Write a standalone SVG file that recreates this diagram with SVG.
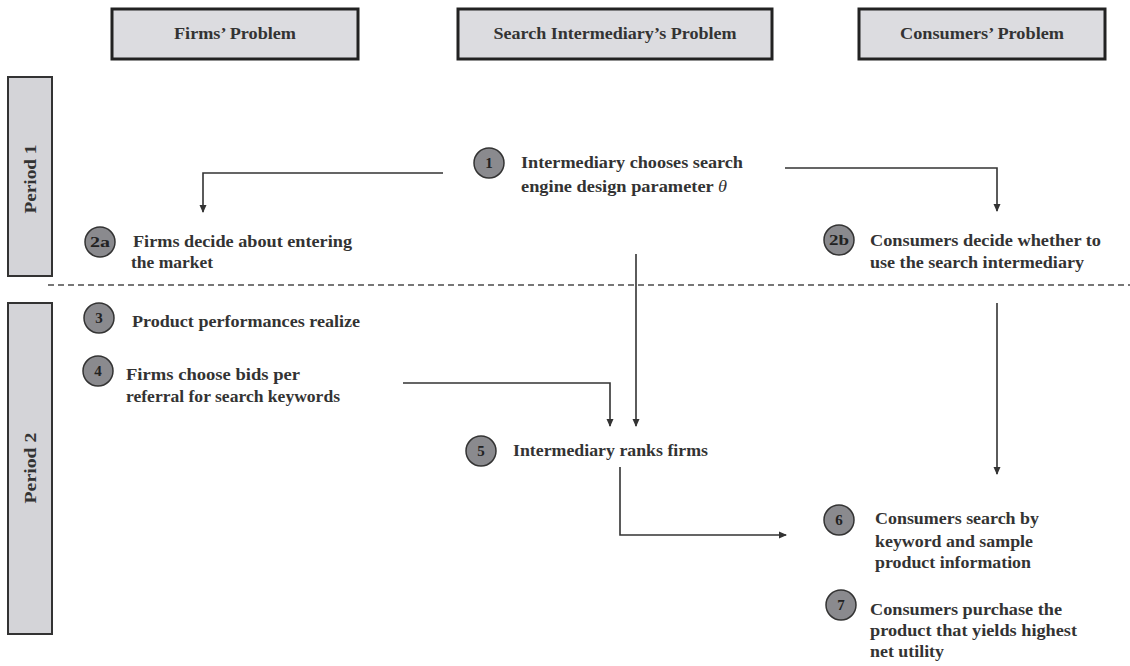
<svg xmlns="http://www.w3.org/2000/svg" width="1130" height="666" viewBox="0 0 1130 666">
<defs>
<marker id="ah" markerWidth="8" markerHeight="8" refX="7" refY="4" orient="auto" markerUnits="userSpaceOnUse">
<path d="M0,0.5 L8,4 L0,7.5 z" fill="#333"/>
</marker>
</defs>
<style>
.hdr{fill:#dcdce0;stroke:#222;stroke-width:3}
.per{fill:#d4d4d8;stroke:#333;stroke-width:2}
.ht{font-family:"Liberation Serif",serif;font-weight:bold;font-size:16px;fill:#333;text-anchor:middle}
.t{font-family:"Liberation Serif",serif;font-weight:bold;font-size:17px;fill:#333}
.c{fill:#8a8a8e;stroke:#333;stroke-width:1.5}
.ct{font-family:"Liberation Serif",serif;font-weight:bold;font-size:15px;fill:#222;text-anchor:middle}
.ln{fill:none;stroke:#333;stroke-width:1.6}
</style>
<rect width="1130" height="666" fill="#fff"/>
<g id="hdr-firms"><rect class="hdr" x="112" y="9" width="246" height="50"/><text class="ht" x="235" y="39" textLength="122" lengthAdjust="spacingAndGlyphs">Firms’ Problem</text></g>
<g id="hdr-inter"><rect class="hdr" x="458" y="9" width="314" height="50"/><text class="ht" x="615" y="39" textLength="243" lengthAdjust="spacingAndGlyphs">Search Intermediary’s Problem</text></g>
<g id="hdr-cons"><rect class="hdr" x="859" y="9" width="246" height="50"/><text class="ht" x="982" y="39" textLength="164" lengthAdjust="spacingAndGlyphs">Consumers’ Problem</text></g>
<g id="period1"><rect class="per" x="8" y="77" width="44" height="199"/><text class="ht" transform="translate(36,179) rotate(-90)" textLength="69" lengthAdjust="spacingAndGlyphs">Period 1</text></g>
<g id="period2"><rect class="per" x="8" y="303" width="44" height="331"/><text class="ht" transform="translate(36,468) rotate(-90)" textLength="71" lengthAdjust="spacingAndGlyphs">Period 2</text></g>
<line x1="48" y1="285" x2="1130" y2="285" stroke="#777" stroke-width="2" stroke-dasharray="6,4"/>
<g id="connectors">
<path class="ln" d="M443,173 H203 V212" marker-end="url(#ah)"/>
<path class="ln" d="M785,168 H997 V211" marker-end="url(#ah)"/>
<path class="ln" d="M636,254 V426" marker-end="url(#ah)"/>
<path class="ln" d="M403,383 H610 V426" marker-end="url(#ah)"/>
<path class="ln" d="M620,467 V535 H786" marker-end="url(#ah)"/>
<path class="ln" d="M997,303 V474" marker-end="url(#ah)"/>
</g>
<g id="n1"><circle class="c" cx="489" cy="163" r="15"/><text class="ct" x="489" y="168">1</text><text class="t" x="521" y="168" textLength="222" lengthAdjust="spacingAndGlyphs">Intermediary chooses search</text><text class="t" x="521" y="192" textLength="206" lengthAdjust="spacingAndGlyphs">engine design parameter <tspan font-style="italic" font-weight="normal">θ</tspan></text></g>
<g id="n2a"><circle class="c" cx="100" cy="242" r="15"/><text class="ct" x="100" y="247" textLength="20" lengthAdjust="spacingAndGlyphs">2a</text><text class="t" x="133" y="247" textLength="219" lengthAdjust="spacingAndGlyphs">Firms decide about entering</text><text class="t" x="131" y="268" textLength="82" lengthAdjust="spacingAndGlyphs">the market</text></g>
<g id="n2b"><circle class="c" cx="839" cy="240" r="15"/><text class="ct" x="839" y="245" textLength="20" lengthAdjust="spacingAndGlyphs">2b</text><text class="t" x="870" y="246" textLength="231" lengthAdjust="spacingAndGlyphs">Consumers decide whether to</text><text class="t" x="870" y="268" textLength="214" lengthAdjust="spacingAndGlyphs">use the search intermediary</text></g>
<g id="n3"><circle class="c" cx="99" cy="318" r="15"/><text class="ct" x="99" y="323">3</text><text class="t" x="132" y="327" textLength="228" lengthAdjust="spacingAndGlyphs">Product performances realize</text></g>
<g id="n4"><circle class="c" cx="98" cy="371" r="15"/><text class="ct" x="98" y="376">4</text><text class="t" x="126" y="380" textLength="174" lengthAdjust="spacingAndGlyphs">Firms choose bids per</text><text class="t" x="126" y="402" textLength="214" lengthAdjust="spacingAndGlyphs">referral for search keywords</text></g>
<g id="n5"><circle class="c" cx="481" cy="451" r="15"/><text class="ct" x="481" y="456">5</text><text class="t" x="513" y="456" textLength="195" lengthAdjust="spacingAndGlyphs">Intermediary ranks firms</text></g>
<g id="n6"><circle class="c" cx="839" cy="520" r="15"/><text class="ct" x="839" y="525">6</text><text class="t" x="875" y="524" textLength="164" lengthAdjust="spacingAndGlyphs">Consumers search by</text><text class="t" x="875" y="547" textLength="158" lengthAdjust="spacingAndGlyphs">keyword and sample</text><text class="t" x="875" y="568" textLength="156" lengthAdjust="spacingAndGlyphs">product information</text></g>
<g id="n7"><circle class="c" cx="841" cy="605" r="15"/><text class="ct" x="841" y="610">7</text><text class="t" x="870" y="615" textLength="192" lengthAdjust="spacingAndGlyphs">Consumers purchase the</text><text class="t" x="870" y="636" textLength="207" lengthAdjust="spacingAndGlyphs">product that yields highest</text><text class="t" x="870" y="657" textLength="74" lengthAdjust="spacingAndGlyphs">net utility</text></g>
</svg>
